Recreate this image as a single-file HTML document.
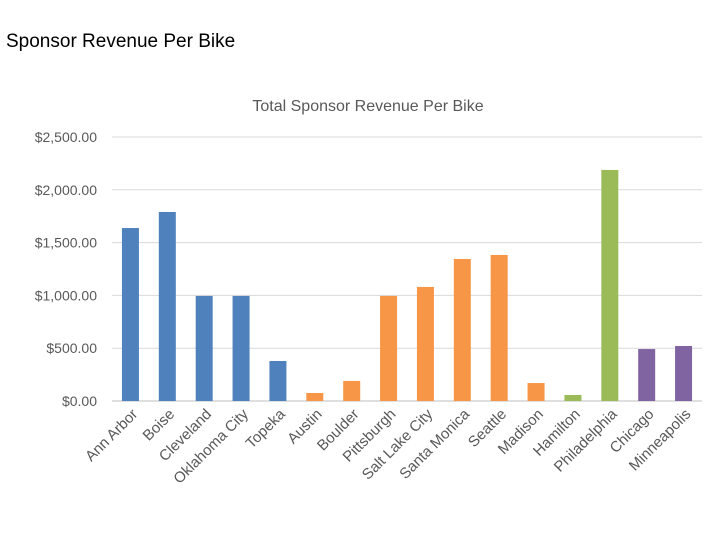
<!DOCTYPE html>
<html><head><meta charset="utf-8"><style>
body{margin:0;background:#fff;}
svg{display:block;font-family:"Liberation Sans",sans-serif;}
</style></head><body>
<svg id="c" width="720" height="540">
<text x="6" y="47" font-size="19" fill="#000">Sponsor Revenue Per Bike</text>
<text x="368" y="111" font-size="16" fill="#595959" text-anchor="middle">Total Sponsor Revenue Per Bike</text>
<g id="grid"></g><g id="bars"></g><g id="xl"></g>
</svg>
<script>
const categories=["Ann Arbor","Boise","Cleveland","Oklahoma City","Topeka","Austin","Boulder","Pittsburgh","Salt Lake City","Santa Monica","Seattle","Madison","Hamilton","Philadelphia","Chicago","Minneapolis"];
const values=[1638,1790,995,995,379,76,190,995,1080,1345,1383,170,57,2188,492,521];
const groups=[0,0,0,0,0,1,1,1,1,1,1,1,2,2,3,3];
const ticks=[0,500,1000,1500,2000,2500];
const tickLabels=["$0.00","$500.00","$1,000.00","$1,500.00","$2,000.00","$2,500.00"];
const colors=["#4f81bd","#f79646","#9bbb59","#8064a2"];
const NS="http://www.w3.org/2000/svg";
const x0=112,x1=702,y0=401,y1=137,max=2500;
const y=v=>y0-(v/max)*(y0-y1);
const band=(x1-x0)/categories.length;
const xc=i=>x0+band*(i+0.5);
function mk(t,a,p){const e=document.createElementNS(NS,t);for(const k in a)e.setAttribute(k,a[k]);p.appendChild(e);return e;}
const g=document.getElementById('grid'),b=document.getElementById('bars'),xl=document.getElementById('xl');
ticks.forEach((t,i)=>{
 const l=mk('line',{x1:x0,x2:x1,y1:y(t),y2:y(t),stroke:i==0?'#bfbfbf':'#d9d9d9','stroke-width':1},g);
 
 
 const tx=mk('text',{x:97,y:y(t)+5,'font-size':14,fill:'#595959','text-anchor':'end'},g);
 tx.textContent=tickLabels[i];
 
 
});
categories.forEach((c,i)=>{
 const r=mk('rect',{x:xc(i)-8.5,width:17,y:y(values[i]),height:y0-y(values[i]),fill:colors[groups[i]]},b);
 
 
 const t=mk('text',{x:xc(i)+8,y:y0+14,'font-size':15,fill:'#595959','text-anchor':'end',transform:`rotate(-45 ${xc(i)+8} ${y0+14})`},xl);
 t.textContent=c;
 
 
});
</script>
</body></html>
